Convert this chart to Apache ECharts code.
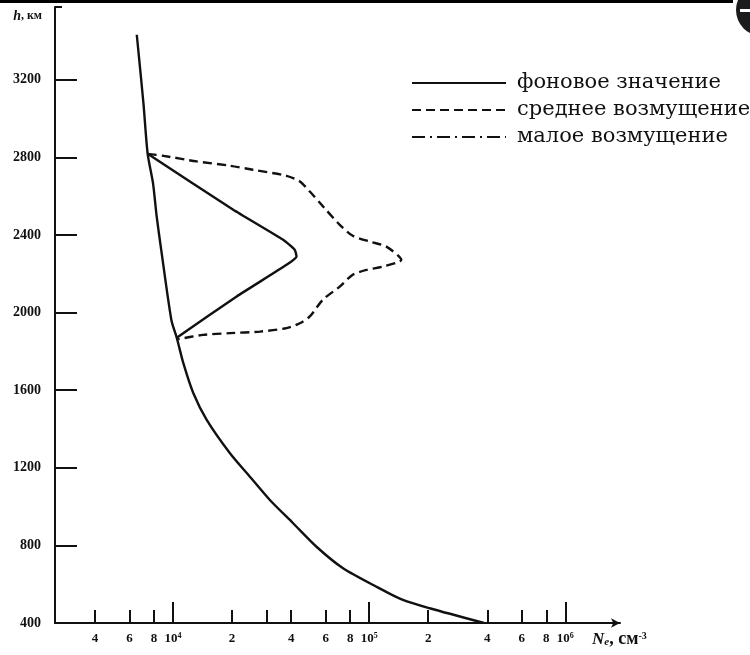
<!DOCTYPE html>
<html>
<head>
<meta charset="utf-8">
<script src="https://cdn.jsdelivr.net/npm/echarts@6/dist/echarts.min.js"></script>
<style>
  html, body { margin: 0; padding: 0; background: #fff; }
  #chart { width: 750px; height: 655px; }
</style>
</head>
<body>
<div id="chart"></div>
<script>
// Electron density N_e (cm^-3) versus height h (km)
const seriesNames = ['фоновое значение', 'среднее возмущение', 'малое возмущение'];

// background profile
const bgDensity = [6530, 7060, 7420, 7900, 8250, 8700, 9800, 10440, 11280, 12690, 14840, 19500, 24650, 31150, 40960, 53860, 73570, 108800, 148600, 203200, 385000];
const bgHeight  = [3432, 3080, 2818, 2667, 2495, 2323, 1962, 1870, 1739, 1584, 1447, 1275, 1154, 1034, 914, 793, 682, 587, 519, 476, 400];

// medium disturbance
const midDensity = [7420, 8925, 13200, 19500, 25530, 37900, 44300, 49800, 56000, 70770, 82400, 100600, 122300, 145800, 117200, 96800, 82400, 70770, 58000, 49800, 44300, 37900, 27720, 19500, 14210, 10500];
const midHeight  = [2818, 2808, 2779, 2757, 2736, 2705, 2676, 2624, 2566, 2452, 2396, 2366, 2340, 2272, 2237, 2220, 2195, 2134, 2066, 1980, 1945, 1920, 1902, 1894, 1885, 1862];

// small disturbance
const smallDensity = [7420, 20270, 36420, 41760, 42600, 37900, 21100, 10440];
const smallHeight  = [2818, 2530, 2375, 2323, 2289, 2246, 2083, 1870];

// axis ticks and labels
const densityRange = [2500, 1.9e6];
const heightRange = [400, 3575];
const heightTicks = [400, 800, 1200, 1600, 2000, 2400, 2800, 3200];
const densityMinorTicks = [4000, 6000, 8000, 20000, 30000, 40000, 60000, 80000, 200000, 400000, 600000, 800000];
const densityMajorTicks = [1e4, 1e5, 1e6];
const densityLabels = [4000, 6000, 8000, 1e4, 2e4, 4e4, 6e4, 8e4, 1e5, 2e5, 4e5, 6e5, 8e5, 1e6];

const pairs = (xs, ys) => xs.map((x, i) => [x, ys[i]]);

function densityLabel(v) {
  const p = Math.floor(Math.log10(v) + 1e-9);
  const m = Math.round(v / Math.pow(10, p));
  return m === 1 ? '{b|10}{p|' + p + '}' : '{b|' + m + '}';
}

const ink = '#111';
const labelFont = 'Liberation Serif';

const chart = echarts.init(document.getElementById('chart'), null, { renderer: 'canvas' });

chart.setOption({
  animation: false,
  backgroundColor: '#fff',
  grid: { left: 55, right: 130, top: 7, bottom: 32, containLabel: false },
  xAxis: [
    {
      type: 'log', logBase: 10, position: 'bottom',
      min: densityRange[0], max: densityRange[1],
      axisLine: { show: true, onZero: false, symbol: ['none', 'arrow'], symbolSize: [7, 9],
        lineStyle: { color: ink, width: 2 } },
      axisTick: { show: true, inside: true, length: 13, customValues: densityMinorTicks,
        lineStyle: { color: ink, width: 2 } },
      minorTick: { show: false },
      splitLine: { show: false },
      axisLabel: {
        show: true, customValues: densityLabels, margin: 9,
        formatter: densityLabel,
        rich: {
          b: { fontFamily: labelFont, fontWeight: 'bold', fontSize: 13, color: ink, lineHeight: 14 },
          p: { fontFamily: labelFont, fontWeight: 'bold', fontSize: 8, color: ink, lineHeight: 8, verticalAlign: 'top' }
        }
      },
      name: '{n|N}{s|e}{t|, см}{p|-3}',
      nameLocation: 'end', nameGap: -28,
      nameTextStyle: {
        align: 'left', verticalAlign: 'top', padding: [8, 0, 0, 0],
        rich: {
          n: { fontFamily: labelFont, fontWeight: 'bold', fontStyle: 'italic', fontSize: 17, color: ink, lineHeight: 17 },
          s: { fontFamily: labelFont, fontWeight: 'bold', fontStyle: 'italic', fontSize: 11, color: ink, lineHeight: 11, verticalAlign: 'bottom' },
          t: { fontFamily: labelFont, fontWeight: 'bold', fontSize: 18, color: ink, lineHeight: 17 },
          p: { fontFamily: labelFont, fontWeight: 'bold', fontSize: 10, color: ink, lineHeight: 10, verticalAlign: 'top' }
        }
      }
    },
    {
      type: 'log', logBase: 10, position: 'bottom',
      min: densityRange[0], max: densityRange[1],
      axisLine: { show: false, onZero: false },
      axisTick: { show: true, inside: true, length: 21, customValues: densityMajorTicks,
        lineStyle: { color: ink, width: 2 } },
      axisLabel: { show: false },
      splitLine: { show: false }
    }
  ],
  yAxis: [
    {
      type: 'value', position: 'left',
      min: heightRange[0], max: heightRange[1], interval: 400,
      axisLine: { show: true, onZero: false, lineStyle: { color: ink, width: 2 } },
      axisTick: { show: true, inside: true, length: 22, customValues: heightTicks,
        lineStyle: { color: ink, width: 2 } },
      splitLine: { show: false },
      axisLabel: {
        show: true, customValues: heightTicks, margin: 14,
        formatter: v => String(v),
        fontFamily: labelFont, fontWeight: 'bold', fontSize: 14, color: ink
      },
      name: '{h|h}{t|, км}',
      nameLocation: 'end', nameGap: -9,
      nameTextStyle: {
        align: 'right', verticalAlign: 'middle', padding: [0, 13, 0, 0],
        rich: {
          h: { fontFamily: labelFont, fontWeight: 'bold', fontStyle: 'italic', fontSize: 14, color: ink },
          t: { fontFamily: labelFont, fontWeight: 'bold', fontSize: 12, color: ink }
        }
      }
    },
    {
      type: 'value', position: 'left',
      min: heightRange[0], max: heightRange[1], interval: 400,
      axisLine: { show: false, onZero: false },
      axisTick: { show: true, inside: true, length: 7, customValues: [heightRange[1]],
        lineStyle: { color: ink, width: 2 } },
      axisLabel: { show: false },
      splitLine: { show: false }
    }
  ],
  legend: {
    orient: 'vertical', left: 411, top: 70, padding: 0,
    itemWidth: 94, itemHeight: 12, itemGap: 1,
    selectedMode: false,
    itemStyle: { opacity: 0 },
    lineStyle: { width: 2 },
    textStyle: { fontFamily: 'DejaVu Serif', fontSize: 21, color: ink, lineHeight: 14, padding: [12, 0, 0, 6] },
    data: [
      { name: seriesNames[0] },
      { name: seriesNames[1] },
      { name: seriesNames[2], lineStyle: { type: [13, 5, 2, 5] } }
    ]
  },
  series: [
    {
      name: seriesNames[0], type: 'line', symbol: 'none', smooth: 0.25,
      data: pairs(bgDensity, bgHeight),
      itemStyle: { color: ink },
      lineStyle: { color: ink, width: 2.4, type: 'solid' }
    },
    {
      name: seriesNames[1], type: 'line', symbol: 'none', smooth: 0.25,
      data: pairs(midDensity, midHeight),
      itemStyle: { color: ink },
      lineStyle: { color: ink, width: 2.4, type: [9, 5] }
    },
    {
      name: seriesNames[2], type: 'line', symbol: 'none', smooth: 0.15,
      data: pairs(smallDensity, smallHeight),
      itemStyle: { color: ink },
      lineStyle: { color: ink, width: 2.4, type: 'solid' }
    }
  ],
  graphic: [
    { type: 'rect', left: 0, top: 0, shape: { width: 733, height: 3 }, style: { fill: '#000' }, silent: true },
    { type: 'circle', shape: { cx: 762, cy: 10, r: 26 }, style: { fill: '#1c1c1c' }, silent: true },
    { type: 'rect', shape: { x: 740, y: 9, width: 10, height: 3 }, style: { fill: '#fff' }, silent: true }
  ]
});
</script>
</body>
</html>
